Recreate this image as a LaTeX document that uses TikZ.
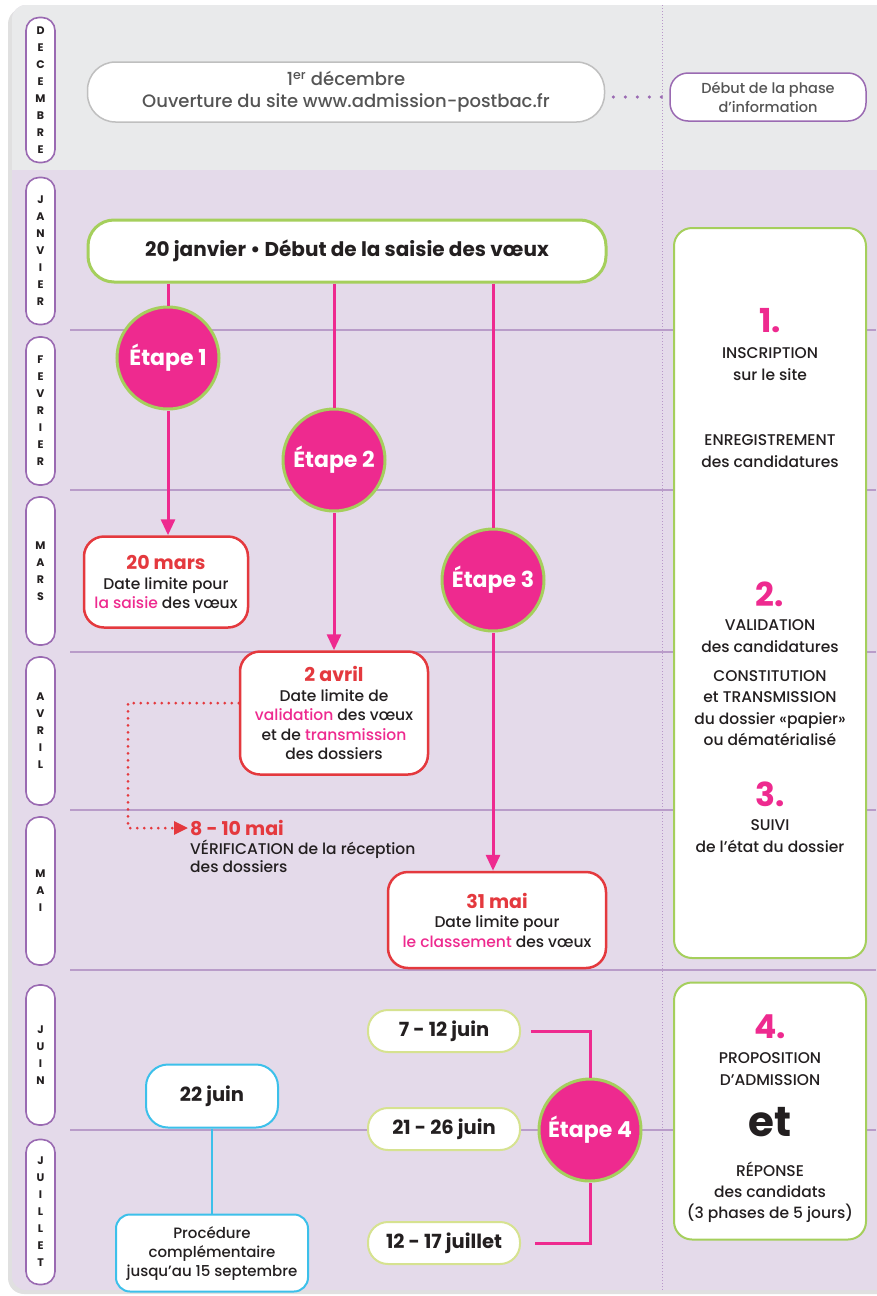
\documentclass[tikz,border=0pt]{standalone}
\usepackage{fontspec}
\setmainfont{Poppins}[UprightFont=* Medium,BoldFont=* Bold]
\usetikzlibrary{arrows.meta}
\definecolor{pinkE}{HTML}{EE2A8F}
\definecolor{greenB}{HTML}{A5CF5C}
\definecolor{redB}{HTML}{E4393E}
\definecolor{lav}{HTML}{E4DAEA}
\definecolor{greybg}{HTML}{E9EAEB}
\definecolor{lineP}{HTML}{B99CC9}
\definecolor{pillP}{HTML}{9A6AB2}
\definecolor{paleG}{HTML}{D6E290}
\definecolor{cyanB}{HTML}{3CC0EA}
\definecolor{textG}{HTML}{555555}
\definecolor{dark}{HTML}{231F20}

\begin{document}
\begin{tikzpicture}[x=1pt,y=-1pt,text=dark,
    pill/.style={draw=pillP,line width=1.6pt,fill=white,rounded corners=13pt,minimum width=29pt,inner sep=0pt,align=center,font=\bfseries\fontsize{11}{17}\selectfont},
    datebox/.style={draw=redB,line width=2.5pt,fill=white,rounded corners=20pt,align=center,inner sep=0pt,font=\fontsize{15.5}{19.5}\selectfont},
    datehead/.style={text=redB,font=\bfseries\fontsize{19}{21}\selectfont},
    etape/.style={circle,fill=pinkE,draw=greenB,line width=3pt,minimum size=102pt,inner sep=0pt,text=white,font=\bfseries\fontsize{22}{24}\selectfont},
    pinkline/.style={draw=pinkE,line width=3pt},
    pinkarrow/.style={pinkline,-{Triangle[width=14pt,length=16pt]}},
    reddots/.style={draw=redB,line width=3pt,line cap=round,dash pattern=on 0pt off 7pt,-{Triangle[width=13pt,length=14pt]}},
    weekbox/.style={draw=paleG,line width=2pt,fill=white,rounded corners=20pt,minimum width=152pt,minimum height=42pt,font=\bfseries\fontsize{19.5}{21}\selectfont},
    cyanbox/.style={draw=cyanB,line width=2pt,fill=white,rounded corners=22pt,align=center,inner sep=0pt},
    sidebox/.style={draw=greenB,line width=2pt,fill=white,rounded corners=18pt,minimum width=192pt},
    sidetxt/.style={align=center,inner sep=0pt,font=\fontsize{15.5}{22}\selectfont},
    bignum/.style={text=pinkE,inner sep=0pt,font=\bfseries\fontsize{33}{33}\selectfont}]
\useasboundingbox (0,0) rectangle (876,1296);
% panel
\fill[black!12,rounded corners=16pt] (8,8) rectangle (900,1294);
\begin{scope}
  \clip[rounded corners=14pt] (12,5) rectangle (900,1290);
  \fill[lav] (0,0) rectangle (900,1296);
  \fill[greybg] (0,0) rectangle (900,170);
\end{scope}
\foreach \y in {330,490,652,810,970,1130}
  \draw[lineP,line width=1.8pt] (70,\y) -- (876,\y);
\draw[pillP!70,line width=1pt,dash pattern=on 1pt off 2pt] (662,5) -- (662,1290);

% months
\node[pill,minimum height=145pt] (dec) at (40.5,90) {D\\E\\C\\E\\M\\B\\R\\E};
\node[pill,minimum height=147pt] (jan) at (40.5,251) {J\\A\\N\\V\\I\\E\\R};
\node[pill,minimum height=148pt] (fev) at (40.5,411) {F\\E\\V\\R\\I\\E\\R};
\node[pill,minimum height=148pt] (mar) at (40.5,571) {M\\A\\R\\S};
\node[pill,minimum height=148pt] (avr) at (40.5,731) {A\\V\\R\\I\\L};
\node[pill,minimum height=148pt] (mai) at (40.5,891) {M\\A\\I};
\node[pill,minimum height=140pt] (jun) at (40.5,1055) {J\\U\\I\\N};
\node[pill,minimum height=145pt] (jul) at (40.5,1212) {J\\U\\I\\L\\L\\E\\T};

% information
\node[draw=black!25,line width=1.5pt,fill=white,rounded corners=28pt,minimum width=517pt,minimum height=60pt,align=center,inner sep=0pt,text=textG,font=\fontsize{18}{22}\selectfont] (site) at (346,92) {1\textsuperscript{er} décembre\\Ouverture du site www.admission-postbac.fr};
\node[draw=pillP,line width=1.5pt,fill=white,rounded corners=18pt,minimum width=196pt,minimum height=48pt,align=center,inner sep=0pt,text=textG,font=\fontsize{14.5}{19}\selectfont] (info) at (768,97) {Début de la phase\\d'information};
\draw[pillP,line width=3.5pt,line cap=round,dash pattern=on 0pt off 12pt] ([xshift=8pt]site.east |- info.west) -- (info.west);

% saisie des voeux
\node[draw=greenB,line width=3pt,fill=white,rounded corners=26pt,minimum width=518pt,minimum height=62pt,font=\bfseries\fontsize{20}{22}\selectfont] (start) at (347,251) {20 janvier • Début de la saisie des vœux};
\node[etape] (e1) at (168,358) {Étape 1};
\node[etape] (e2) at (334,460) {Étape 2};
\node[etape] (e3) at (493,580) {Étape 3};
\node[datebox,minimum width=164pt,minimum height=91pt] (mars) at (166,582) {{\color{redB}\bfseries\fontsize{19}{21}\selectfont 20 mars}\\Date limite pour\\{\color{pinkE}la saisie} des vœux};
\node[datebox,minimum width=188pt,minimum height=123pt] (avril) at (334,713) {{\color{redB}\bfseries\fontsize{19}{21}\selectfont 2 avril}\\Date limite de\\{\color{pinkE}validation} des vœux\\et de {\color{pinkE}transmission}\\des dossiers};
\node[datebox,minimum width=218pt,minimum height=96pt] (mai31) at (497,920) {{\color{redB}\bfseries\fontsize{19}{21}\selectfont 31 mai}\\Date limite pour\\{\color{pinkE}le classement} des vœux};
\node[datehead,anchor=west,inner sep=0pt] (mayd) at (190,828) {8 - 10 mai};
\node[anchor=north west,align=left,inner sep=0pt,font=\fontsize{15.5}{18}\selectfont] (verif) at (190,840) {VÉRIFICATION de la réception\\des dossiers};

\draw[pinkline] (e1 |- start.south) -- (e1.north);
\draw[pinkline] (e2 |- start.south) -- (e2.north);
\draw[pinkline] (e3 |- start.south) -- (e3.north);
\draw[pinkarrow] (e1.south) -- (e1 |- mars.north);
\draw[pinkarrow] (e2.south) -- (e2 |- avril.north);
\draw[pinkarrow] (e3.south) -- (e3 |- mai31.north);
\coordinate (vd) at (128,703);
\draw[reddots] (avril.west |- vd) -- (vd) |- ([xshift=-2pt]mayd.west);

% phases
\node[sidebox,minimum height=730pt] (phase) at (770,593) {};
\node[bignum] (n1) at (770,321) {1.};
\node[sidetxt] (t1) at (770,364) {INSCRIPTION\\sur le site};
\node[sidetxt] (t1b) at (770,451) {ENREGISTREMENT\\des candidatures};
\node[bignum] (n2) at (770,594) {2.};
\node[sidetxt] (t2) at (770,636) {VALIDATION\\des candidatures};
\node[sidetxt,font=\fontsize{15.5}{21.5}\selectfont] (t2b) at (770,708) {CONSTITUTION\\et TRANSMISSION\\du dossier «papier»\\ou dématérialisé};
\node[bignum] (n3) at (770,794) {3.};
\node[sidetxt] (t3) at (770,836) {SUIVI\\de l'état du dossier};
\node[sidebox,minimum height=257pt] (admis) at (770,1111) {};
\node[bignum] (n4) at (770,1027) {4.};
\node[sidetxt] (t4) at (770,1069) {PROPOSITION\\D'ADMISSION};
\node[inner sep=0pt,font=\bfseries\fontsize{42}{42}\selectfont] (et) at (770,1122) {et};
\node[sidetxt,font=\fontsize{15.5}{21}\selectfont] (t4b) at (770,1192) {RÉPONSE\\des candidats\\(3 phases de 5 jours)};

% admission
\node[weekbox] (w1) at (444,1031) {7 - 12 juin};
\node[weekbox] (w2) at (444,1129) {21 - 26 juin};
\node[weekbox] (w3) at (444,1243) {12 - 17 juillet};
\node[etape] (e4) at (590,1130) {Étape 4};
\draw[pinkline] ([xshift=10pt]w1.east) -| (e4.north);
\draw[pinkline] ([xshift=14pt]w3.east) -| (e4.south);
\node[cyanbox,minimum width=132pt,minimum height=63pt,font=\bfseries\fontsize{19.5}{21}\selectfont] (j22) at (212,1096) {22 juin};
\node[cyanbox,minimum width=192pt,minimum height=77pt,rounded corners=14pt,font=\fontsize{15}{19}\selectfont] (proc) at (212,1253) {Procédure\\complémentaire\\jusqu'au 15 septembre};
\draw[cyanB,line width=2pt] (j22.south) -- (proc.north);
\end{tikzpicture}
\end{document}
